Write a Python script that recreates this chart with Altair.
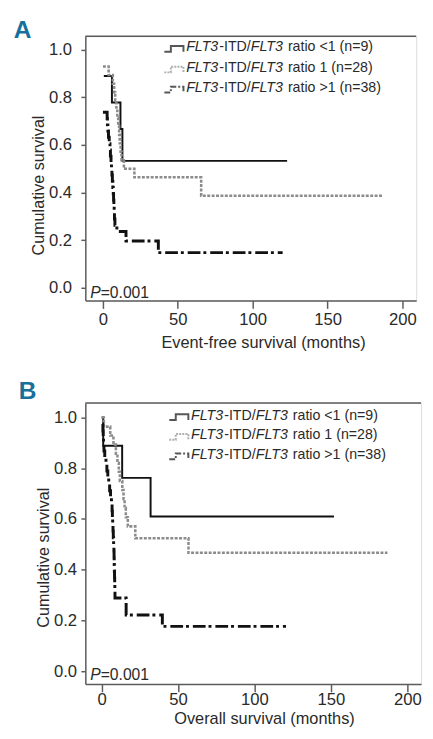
import altair as alt
import pandas as pd

FONT = "Liberation Sans, Arial, sans-serif"
TXT = "#2a2a2a"
AXC = "#5c5c5c"
BLUE = "#17709c"
BLACK = "#111111"
GRAY = "#8c8c8c"

LEGEND_ITAL = "FLT3"
LEGEND_MID = "-ITD/"
LEGEND_RATIO = ["ratio <1 (n=9)", "ratio 1 (n=28)", "ratio >1 (n=38)"]
X_TICKS = [0, 50, 100, 150, 200]
Y_TICKS = [0.0, 0.2, 0.4, 0.6, 0.8, 1.0]

# Panel A: event-free survival
A_LT1_T = [0.6, 6.0, 11.7, 13.0, 123.0]
A_LT1_S = [0.889, 0.778, 0.667, 0.533, 0.533]
A_EQ1_T = [0.0, 3.8, 6.6, 7.5, 8.2, 9.0, 9.6, 10.2, 10.8, 11.2, 11.8, 12.4, 14.0, 21.0, 65.6, 187.0]
A_EQ1_S = [0.929, 0.893, 0.857, 0.821, 0.786, 0.750, 0.714, 0.679, 0.643, 0.607, 0.571, 0.536, 0.500, 0.464, 0.387, 0.387]
A_GT1_T = [0.0, 2.8, 3.0, 3.3, 3.7, 4.2, 4.7, 5.0, 5.4, 5.7, 6.0, 6.3, 6.6, 6.9, 7.1, 7.3, 7.5, 7.7, 8.0, 9.3, 15.4, 37.0, 120.0]
A_GT1_S = [0.737, 0.711, 0.684, 0.658, 0.632, 0.605, 0.579, 0.553, 0.526, 0.500, 0.474, 0.447, 0.421, 0.395, 0.368, 0.342, 0.316, 0.289, 0.263, 0.237, 0.197, 0.148, 0.148]

# Panel B: overall survival
B_LT1_T = [0.0, 1.0, 13.4, 32.0, 152.0]
B_LT1_S = [1.0, 0.889, 0.762, 0.610, 0.610]
B_EQ1_T = [0.0, 1.4, 5.6, 7.7, 9.3, 10.3, 11.2, 11.9, 13.5, 14.3, 15.0, 15.8, 17.1, 22.0, 56.8, 187.0]
B_EQ1_S = [1.0, 0.964, 0.929, 0.893, 0.857, 0.821, 0.786, 0.750, 0.714, 0.679, 0.643, 0.607, 0.571, 0.524, 0.467, 0.467]
B_GT1_T = [0.5, 0.8, 1.0, 1.2, 1.5, 2.0, 2.8, 3.4, 4.0, 4.6, 5.2, 5.8, 6.4, 6.8, 7.0, 7.2, 7.4, 7.6, 7.8, 8.0, 8.1, 8.2, 8.3, 8.4, 8.5, 8.6, 8.7, 8.8, 16.0, 39.7, 120.6]
B_GT1_S = [0.974, 0.947, 0.921, 0.895, 0.868, 0.842, 0.816, 0.789, 0.763, 0.737, 0.711, 0.684, 0.658, 0.632, 0.605, 0.579, 0.553, 0.526, 0.500, 0.474, 0.447, 0.421, 0.395, 0.368, 0.342, 0.316, 0.289, 0.289, 0.222, 0.177, 0.177]

STYLES = [
    dict(color=BLACK, strokeWidth=2.0),
    dict(color=GRAY, strokeWidth=2.6, strokeDash=[3, 1.5]),
    dict(color=BLACK, strokeWidth=3.0, strokeDash=[13, 3, 3, 4]),
]
SYMBOL = "M-1,0.3 H-0.32 V-0.3 H1 V0.3"
ONE = pd.DataFrame({"k": [0]})

LEG_FS = 14.5
# Liberation Sans (Arial metrics) advance widths, em units
W_FLT3 = 2.334 * LEG_FS
W_MID = 2.222 * LEG_FS
W_SPACE = 0.278 * LEG_FS


def panel(series, letter, letter_y, xtitle, xdom, ydom, width, height, plot_left,
          ylabel_pad, xlabel_pad, ytitle_x, ytitle_y, xtitle_x, xtitle_y, row_y, p_y):
    xscale = alt.Scale(domain=xdom, nice=False, zero=False)
    yscale = alt.Scale(domain=ydom, nice=False, zero=False)
    xaxis = alt.Axis(values=X_TICKS, format="d", title=xtitle, grid=False, labelFlush=False,
                     tickSize=8, labelPadding=xlabel_pad, labelFontSize=17, labelFont=FONT,
                     labelColor=TXT, titleFontSize=16.7, titleFont=FONT, titleColor=TXT,
                     titleFontWeight="normal", titleX=xtitle_x, titleY=xtitle_y,
                     titleBaseline="alphabetic", domainColor=AXC, tickColor=AXC,
                     domainWidth=1.5, tickWidth=1.5)
    yaxis = alt.Axis(values=Y_TICKS, format=".1f", title="Cumulative survival", grid=False,
                     tickSize=4.5, labelPadding=ylabel_pad, labelFontSize=17, labelFont=FONT,
                     labelColor=TXT, titleFontSize=16.5, titleFont=FONT, titleColor=TXT,
                     titleFontWeight="normal", titleX=ytitle_x, titleY=ytitle_y,
                     titleBaseline="alphabetic", titleAngle=270, domainColor=AXC,
                     tickColor=AXC, domainWidth=1.5, tickWidth=1.5)
    layers = []
    # top frame line: runs along the upper end of the y domain, across the x domain
    frame = pd.DataFrame({"t": [xdom[0], xdom[1]], "s": [ydom[1], ydom[1]]})
    layers.append(alt.Chart(frame).mark_line(color=AXC, strokeWidth=1.6).encode(
        x=alt.X("t:Q", scale=xscale, axis=xaxis),
        y=alt.Y("s:Q", scale=yscale, axis=yaxis)))
    for (t, s), st in zip(series, STYLES):
        df = pd.DataFrame({"t": t, "s": s})
        layers.append(
            alt.Chart(df).mark_line(interpolate="step-after", **st).encode(
                x=alt.X("t:Q", scale=xscale, axis=xaxis),
                y=alt.Y("s:Q", scale=yscale, axis=yaxis),
            )
        )
    # panel letter
    layers.append(alt.Chart(ONE).mark_text(
        align="left", baseline="alphabetic", font=FONT, fontSize=25, fontWeight="bold",
        color=BLUE).encode(x=alt.value(13 - plot_left), y=alt.value(letter_y),
                           text=alt.value(letter)))
    # legend
    seg_x = [189, 189 + W_FLT3, 189 + W_FLT3 + W_MID, 189 + 2 * W_FLT3 + W_MID + W_SPACE]
    sym_x = 176.5
    for r in range(3):
        st = STYLES[r]
        sym_kw = dict(color=st["color"], strokeWidth=2.0, filled=False, shape=SYMBOL, size=380)
        if "strokeDash" in st:
            sym_kw["strokeDash"] = [2, 1.2] if r == 1 else [6, 2, 2, 2]
        layers.append(alt.Chart(ONE).mark_point(**sym_kw).encode(
            x=alt.value(sym_x - plot_left), y=alt.value(row_y[r] + 1.5)))
        texts = [LEGEND_ITAL, LEGEND_MID, LEGEND_ITAL, LEGEND_RATIO[r]]
        for j, txt in enumerate(texts):
            layers.append(alt.Chart(ONE).mark_text(
                align="left", baseline="middle", font=FONT, fontSize=LEG_FS, color=TXT,
                fontStyle="italic" if j in (0, 2) else "normal").encode(
                x=alt.value(seg_x[j] - plot_left), y=alt.value(row_y[r]),
                text=alt.value(txt)))
    # P value
    layers.append(alt.Chart(ONE).mark_text(
        align="left", baseline="alphabetic", font=FONT, fontSize=16, color=TXT,
        fontStyle="italic").encode(x=alt.value(5), y=alt.value(p_y), text=alt.value("P")))
    layers.append(alt.Chart(ONE).mark_text(
        align="left", baseline="alphabetic", font=FONT, fontSize=16, color=TXT).encode(
        x=alt.value(15.7), y=alt.value(p_y), text=alt.value("=0.001")))
    return alt.layer(*layers).properties(width=width, height=height)


panel_a = panel(
    [(A_LT1_T, A_LT1_S), (A_EQ1_T, A_EQ1_S), (A_GT1_T, A_GT1_S)],
    "A", 2, "Event-free survival (months)", [-11.76, 209.2], [-0.053, 1.056],
    338, 270, 86, 9.5, 3.5, -43, 152, 181.5, 48, [11.5, 32.5, 53], 267)
panel_b = panel(
    [(B_LT1_T, B_LT1_S), (B_EQ1_T, B_EQ1_S), (B_GT1_T, B_GT1_S)],
    "B", -4, "Overall survival (months)", [-10.7, 209.0], [-0.050, 1.057],
    343, 287, 81, 4.5, 0.5, -38, 157.5, 182.5, 40, [13, 33, 53], 283)

chart = alt.vconcat(panel_a, panel_b, spacing=26.7).properties(
    padding={"left": 5, "top": 2, "right": 0, "bottom": 0}
).configure_view(strokeWidth=0).configure(background="white")

chart.save("out.html", embed_options={"renderer": "svg", "actions": False})
